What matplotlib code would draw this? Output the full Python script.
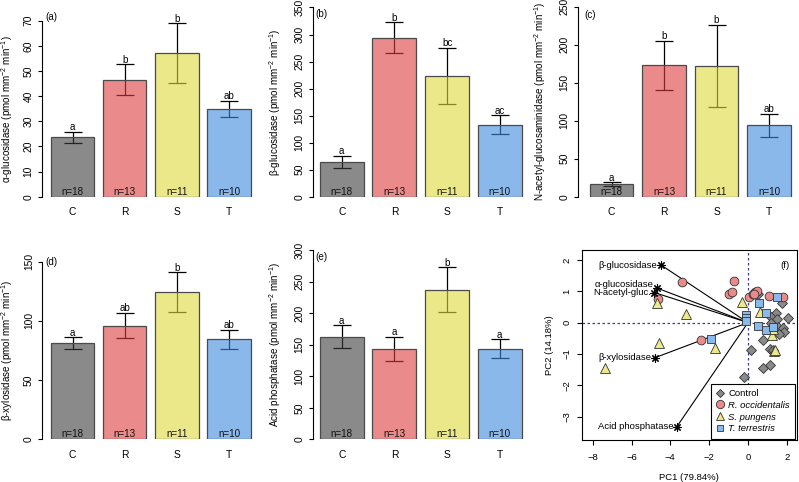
import matplotlib
matplotlib.use('Agg')
import matplotlib.pyplot as plt
from matplotlib.lines import Line2D

plt.rcParams['font.family'] = ['Liberation Sans', 'DejaVu Sans']
plt.rcParams['mathtext.default'] = 'regular'

W, H = 799, 482

# ---------------- data ----------------
groups = ['C', 'R', 'S', 'T']
n_labels = ['n=18', 'n=13', 'n=11', 'n=10']

alpha_glu_mean = [23.6, 46.5, 57.0, 35.0]
alpha_glu_se = [2.3, 6.2, 11.9, 3.2]
alpha_glu_letters = ['a', 'b', 'b', 'ab']

beta_glu_mean = [65.0, 294.0, 223.0, 133.0]
beta_glu_se = [11.0, 28.5, 52.0, 17.5]
beta_glu_letters = ['a', 'b', 'bc', 'ac']

nag_mean = [16.5, 173.0, 172.0, 94.0]
nag_se = [2.4, 32.3, 54.3, 15.0]
nag_letters = ['a', 'b', 'b', 'ab']

xyl_mean = [81.0, 96.0, 124.0, 84.5]
xyl_se = [5.0, 10.5, 17.0, 8.0]
xyl_letters = ['a', 'ab', 'b', 'ab']

acp_mean = [163.0, 143.5, 237.0, 143.5]
acp_se = [18.0, 19.5, 35.7, 15.3]
acp_letters = ['a', 'a', 'b', 'a']

# PCA scores
control_x = [0.54, 1.77, 1.45, 1.19, 2.08, 1.48, 1.19, 1.57, 1.80, 1.85, 1.60, 0.78, 0.14, 1.16, 1.30, 0.76, 1.14, -0.20]
control_y = [0.92, 0.63, 0.30, 0.19, 0.14, 0.10, -0.02, -0.13, -0.18, -0.30, -0.36, -0.57, -0.87, -0.83, -0.87, -1.45, -1.35, -1.75]
rocc_x = [-4.62, -3.38, -2.43, -0.72, -0.96, -0.82, 0.07, 0.25, 0.35, 0.45, 1.10, 1.83, 0.30]
rocc_y = [0.76, 1.29, -0.55, 1.34, 0.90, 0.97, 0.83, 0.93, 0.98, 1.00, 0.85, 0.83, 0.90]
spun_x = [-7.37, -4.67, -4.58, -3.19, -1.70, -0.32, 0.62, 1.22, 1.28, 1.35, 1.38]
spun_y = [-1.46, 0.64, -0.64, 0.27, -0.82, 0.67, 0.35, -0.39, -0.20, -0.90, -0.88]
tter_x = [1.50, 0.55, 0.95, -0.12, -0.10, 0.52, 0.92, -1.93, -0.08, 1.30]
tter_y = [0.81, 0.62, 0.31, 0.25, 0.14, -0.10, -0.25, -0.53, 0.05, -0.15]

load_names = ['β-glucosidase', 'α-glucosidase', 'N-acetyl-gluc.', 'β-xylosidase', 'Acid phosphatase']
load_x = [-4.48, -4.67, -4.82, -4.79, -3.67]
load_y = [1.84, 1.10, 0.96, -1.12, -3.33]

# ---------------- style ----------------
ALPHA = 0.6
fill_cols = [(60/255, 60/255, 60/255, ALPHA),
             (222/255, 60/255, 60/255, ALPHA),
             (222/255, 218/255, 60/255, ALPHA),
             (60/255, 138/255, 222/255, ALPHA)]
solid_cols = ['#8a8a8a', '#eb8a8a', '#ebe98a', '#8ab9eb']
EDGE = '#4a4a4a'
FS = 7.4       # tick labels in bar panels
FS_ANN = 7.1   # letters / n= / ylabels
FS_P = 6.8     # PCA panel

fig = plt.figure(figsize=(W / 100, H / 100), dpi=100)


def px_axes(x0, y0, x1, y1):
    return fig.add_axes([x0 / W, 1 - y1 / H, (x1 - x0) / W, (y1 - y0) / H])


def bar_panel(A, c0, p, ybase, ytop, ymax, ystep, means, ses, letters, ylabel, tag, ylab_x, tag_xy):
    xl = -(c0 - A) / p
    xr = 3.55
    ax = px_axes(A, ytop, A + (xr - xl) * p, ybase)
    ax.set_xlim(xl, xr)
    ax.set_ylim(0, ymax)
    xs = list(range(len(groups)))
    ax.errorbar(xs, means, yerr=ses, fmt='none', ecolor='black', elinewidth=0.9,
                capsize=6.3, capthick=0.9, zorder=1)
    ax.bar(xs, means, width=0.835, color=fill_cols, edgecolor=EDGE, linewidth=0.9, zorder=2)
    for x, m, s, l, n in zip(xs, means, ses, letters, n_labels):
        ax.annotate(l, (x, m + s), xytext=(0, 1.2), textcoords='offset points',
                    ha='center', va='baseline', fontsize=FS_ANN, zorder=3, annotation_clip=False)
        ax.annotate(n, (x, 0), xytext=(0, 1.3), textcoords='offset points',
                    ha='center', va='baseline', fontsize=FS_ANN, color='#111111', zorder=3)
    for s in ['top', 'right', 'bottom']:
        ax.spines[s].set_visible(False)
    ax.spines['left'].set_linewidth(0.8)
    ax.set_yticks([ystep * i for i in range(int(round(ymax / ystep)) + 1)])
    ax.tick_params(axis='y', length=3, width=0.8, pad=3, labelsize=FS, labelrotation=90)
    for t in ax.get_yticklabels():
        t.set_va('center')
    ax.set_xticks(xs)
    ax.set_xticklabels(groups)
    ax.tick_params(axis='x', length=0, pad=7.5, labelsize=FS)
    ax.patch.set_alpha(0)
    fig.text(ylab_x / W, 1 - ((ytop + ybase) / 2) / H, ylabel, rotation=90,
             ha='center', va='center', fontsize=FS_ANN)
    fig.text(tag_xy[0] / W, 1 - tag_xy[1] / H, tag, ha='left', va='center', fontsize=FS_ANN)
    return ax


unit = r' (pmol mm$^{-2}$ min$^{-1}$)'
bar_panel(42, 72.5, 52.2, 196.7, 20.7, 70, 10, alpha_glu_mean, alpha_glu_se, alpha_glu_letters,
          'α-glucosidase' + unit, '(a)', 7, (45, 17))
bar_panel(312.7, 341.7, 52.7, 196.7, 7.5, 350, 50, beta_glu_mean, beta_glu_se, beta_glu_letters,
          'β-glucosidase' + unit, '(b)', 275, (315, 14))
bar_panel(577.7, 611.5, 52.5, 196.7, 6.7, 250, 50, nag_mean, nag_se, nag_letters,
          'N-acetyl-glucosaminidase' + unit, '(c)', 540, (584, 15))
bar_panel(42.3, 72.5, 52.2, 439.3, 261.5, 150, 50, xyl_mean, xyl_se, xyl_letters,
          'β-xylosidase' + unit, '(d)', 7, (45, 262))
bar_panel(312.7, 341.7, 52.7, 439.3, 250.2, 300, 50, acp_mean, acp_se, acp_letters,
          'Acid phosphatase' + unit, '(e)', 275, (315, 257))

# ---------------- PCA panel ----------------
ax = px_axes(582, 250, 796.5, 440)
ax.set_xlim(-8.55, 2.5)
ax.set_ylim(-3.75, 2.32)
ax.axhline(0, color='#3a3aa0', lw=0.9, ls=(0, (2, 2)), zorder=1)
ax.axvline(0, color='#3a3aa0', lw=0.9, ls=(0, (2, 2)), zorder=1)
for lx, ly in zip(load_x, load_y):
    ax.plot([0, lx], [0, ly], color='black', lw=0.8, zorder=2)
ax.plot(load_x, load_y, ls='none', marker=(8, 2, 0), ms=6, color='black', mew=0.8, zorder=4)
offs = [(-2.5, 0), (-2.5, 2.6), (-2.5, -0.3), (-2.5, 0), (-2.5, 0)]
for name, lx, ly, o in zip(load_names, load_x, load_y, offs):
    ax.annotate(name, (lx, ly), xytext=o, textcoords='offset points', ha='right', va='center',
                fontsize=FS_P, zorder=5)
kw = dict(ls='none', mec='#333333', mew=0.6, zorder=3)
ax.plot(control_x, control_y, marker='D', ms=4.6, mfc=solid_cols[0], **kw)
ax.plot(rocc_x, rocc_y, marker='o', ms=6.3, mfc=solid_cols[1], **kw)
ax.plot(spun_x, spun_y, marker='^', ms=6.5, mfc=solid_cols[2], **kw)
ax.plot(tter_x, tter_y, marker='s', ms=5.2, mfc=solid_cols[3], **kw)
ax.set_xticks([-8, -6, -4, -2, 0, 2])
ax.set_yticks([-3, -2, -1, 0, 1, 2])
ax.tick_params(axis='both', length=3.5, width=0.8, labelsize=FS_P)
ax.tick_params(axis='x', pad=6)
ax.tick_params(axis='y', pad=4, labelrotation=90)
for t in ax.get_yticklabels():
    t.set_va('center')
for s in ax.spines.values():
    s.set_linewidth(0.8)
ax.set_xlabel('PC1 (79.84%)', fontsize=FS_P, labelpad=8)
ax.set_ylabel('PC2 (14.18%)', fontsize=FS_P, labelpad=6)
ax.text(0.97, 0.92, '(f)', transform=ax.transAxes, ha='right', va='center', fontsize=FS_P)

handles = [Line2D([], [], marker='D', ms=4.3, mfc=solid_cols[0], **kw),
           Line2D([], [], marker='o', ms=6.0, mfc=solid_cols[1], **kw),
           Line2D([], [], marker='^', ms=6.0, mfc=solid_cols[2], **kw),
           Line2D([], [], marker='s', ms=4.8, mfc=solid_cols[3], **kw)]
leg = ax.legend(handles, ['Control', 'R. occidentalis', 'S. pungens', 'T. terrestris'],
                loc='lower right', fontsize=FS_P, frameon=True, fancybox=False,
                edgecolor='black', framealpha=1, borderaxespad=0.15, handlelength=0.8,
                handletextpad=0.5, labelspacing=0.3, borderpad=0.55)
leg.get_frame().set_linewidth(0.8)
for t in leg.get_texts()[1:]:
    t.set_style('italic')

fig.savefig('out.png', dpi=100)
